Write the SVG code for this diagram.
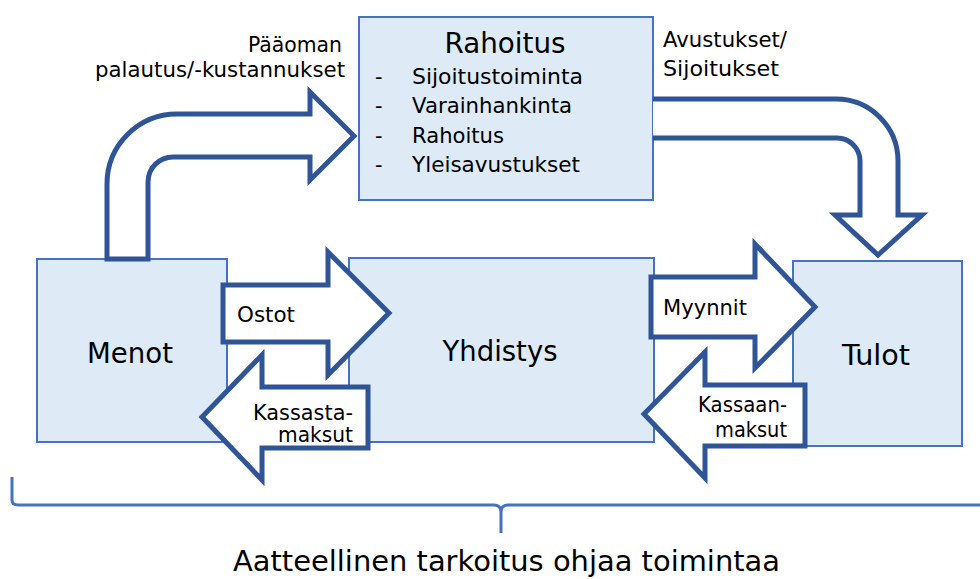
<svg xmlns="http://www.w3.org/2000/svg" width="980" height="579" viewBox="0 0 980 579">
<style>
.box{fill:#DEEAF6;stroke:#4472C4;stroke-width:2}
.arr{fill:#FFFFFF;stroke:#2F5597;stroke-width:5;stroke-linejoin:miter}
text{font-family:"DejaVu Sans","Liberation Sans",sans-serif;fill:#000}
.big{font-size:28px}
.mid{font-size:21px}
.brace{fill:none;stroke:#4472C4;stroke-width:3}
</style>
<rect width="980" height="579" fill="#FFFFFF"/>
<g id="rahoitus">
<rect class="box" x="359" y="17" width="294" height="183"/>
<text class="big" x="505" y="53" text-anchor="middle" textLength="121" lengthAdjust="spacingAndGlyphs">Rahoitus</text>
<g class="mid">
<text x="375" y="84">-</text><text x="412" y="84" textLength="171" lengthAdjust="spacingAndGlyphs">Sijoitustoiminta</text>
<text x="375" y="113">-</text><text x="412" y="113" textLength="160" lengthAdjust="spacingAndGlyphs">Varainhankinta</text>
<text x="375" y="143">-</text><text x="412" y="143" textLength="92" lengthAdjust="spacingAndGlyphs">Rahoitus</text>
<text x="375" y="172">-</text><text x="412" y="172" textLength="168" lengthAdjust="spacingAndGlyphs">Yleisavustukset</text>
</g>
</g>
<g id="menot">
<rect class="box" x="37" y="259" width="190" height="183"/>
<text class="big" x="130" y="363" text-anchor="middle" textLength="86" lengthAdjust="spacingAndGlyphs">Menot</text>
</g>
<g id="yhdistys">
<rect class="box" x="349" y="258" width="305" height="184"/>
<text class="big" x="500" y="361" text-anchor="middle" textLength="115" lengthAdjust="spacingAndGlyphs">Yhdistys</text>
</g>
<g id="tulot">
<rect class="box" x="793" y="261" width="169" height="185"/>
<text class="big" x="876" y="365" text-anchor="middle" textLength="68" lengthAdjust="spacingAndGlyphs">Tulot</text>
</g>
<g id="connectors">
<path class="arr" d="M107,259 V184 A70,70 0 0 1 177,114 H310 V92 L354,136 L310,180 V157 H173 A25,25 0 0 0 148,182 V259 Z"/>
<path class="arr" d="M653,99 H836 A62,62 0 0 1 898,161 V215 H922 L878,255 L835,215 H860 V161 A23,23 0 0 0 837,138 H653"/>
<path class="arr" d="M223,285 H328 V252 L389,313 L328,375 V342 H223 Z"/>
<path class="arr" d="M368,387 H262 V355 L202,417 L262,480 V448 H368 Z"/>
<path class="arr" d="M651,277 H755 V244 L815,307 L755,368 V337 H651 Z"/>
<path class="arr" d="M805,385 H705 V352 L644,414 L705,478 V446 H805 Z"/>
<path class="brace" d="M12,477 V500 Q12,505 18,505 H494 Q501,505 501,512 V533 M980,505 H508 Q501,505 501,512"/>
</g>
<g id="labels">
<text class="mid" x="342" y="52" text-anchor="end" textLength="94" lengthAdjust="spacingAndGlyphs">Pääoman</text>
<text class="mid" x="95" y="77" textLength="250" lengthAdjust="spacingAndGlyphs">palautus/-kustannukset</text>
<text class="mid" x="663" y="47" textLength="124" lengthAdjust="spacingAndGlyphs">Avustukset/</text>
<text class="mid" x="663" y="76" textLength="116" lengthAdjust="spacingAndGlyphs">Sijoitukset</text>
<text class="mid" x="237" y="322" textLength="58" lengthAdjust="spacingAndGlyphs">Ostot</text>
<text class="mid" x="353" y="420" text-anchor="end" textLength="100" lengthAdjust="spacingAndGlyphs">Kassasta-</text>
<text class="mid" x="353" y="442" text-anchor="end" textLength="75" lengthAdjust="spacingAndGlyphs">maksut</text>
<text class="mid" x="663" y="315" textLength="84" lengthAdjust="spacingAndGlyphs">Myynnit</text>
<text class="mid" x="787" y="412" text-anchor="end" textLength="89" lengthAdjust="spacingAndGlyphs">Kassaan-</text>
<text class="mid" x="787" y="437" text-anchor="end" textLength="72" lengthAdjust="spacingAndGlyphs">maksut</text>
<text x="233" y="571" style="font-size:29px" textLength="547" lengthAdjust="spacingAndGlyphs">Aatteellinen tarkoitus ohjaa toimintaa</text>
</g>
</svg>
